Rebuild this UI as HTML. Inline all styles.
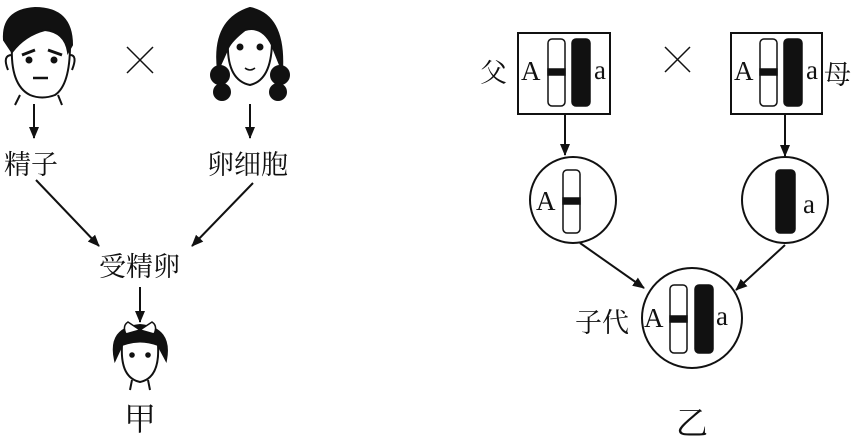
<!DOCTYPE html>
<html><head><meta charset="utf-8"><style>
body{margin:0;background:#fff;}
svg{display:block;}
text{font-family:"Liberation Serif","Noto Serif CJK SC",serif;fill:#111;}
.cn{font-family:"Liberation Sans","Noto Sans CJK SC",sans-serif;}
</style></head><body>
<svg width="859" height="438" viewBox="0 0 859 438" xmlns="http://www.w3.org/2000/svg">
<defs><marker id="ah" markerWidth="12" markerHeight="12" refX="11" refY="6" orient="auto" markerUnits="userSpaceOnUse"><path d="M0,1 L12,6 L0,11 Z" fill="#111"/></marker></defs>
<g stroke="#111" stroke-width="2" fill="none">
<!-- man face -->
<path d="M12,45 Q10,85 30,95 Q42,100 55,95 Q70,85 70,45" fill="#fff"/>
<path d="M4,40 Q2,10 35,8 Q72,8 72,45 L68,52 Q65,32 45,30 Q25,35 12,52 Z" fill="#111"/>
<path d="M12,55 Q2,55 8,70 M70,55 Q78,55 72,70"/>
<path d="M20,95 L15,105 M58,95 L62,105"/>
<path d="M22,55 L35,50 M48,50 L62,55" stroke-width="3"/>
<circle cx="29" cy="60" r="2.5" fill="#111"/><circle cx="54" cy="60" r="2.5" fill="#111"/>
<path d="M33,78 L48,78" stroke-width="2.5"/>
<!-- woman -->
<path d="M228,40 Q226,80 250,85 Q272,80 272,40" fill="#fff"/>
<path d="M218,70 Q212,20 250,8 Q285,15 282,70 L272,45 Q262,25 245,30 Q232,40 228,48 Z" fill="#111"/>
<circle cx="220" cy="75" r="9" fill="#111"/><circle cx="222" cy="92" r="8" fill="#111"/>
<circle cx="280" cy="75" r="9" fill="#111"/><circle cx="278" cy="92" r="8" fill="#111"/>
<circle cx="240" cy="47" r="2.5" fill="#111"/><circle cx="260" cy="47" r="2.5" fill="#111"/>
<path d="M245,68 Q250,72 255,68" stroke-width="1.5"/>
<!-- girl -->
<path d="M122,345 Q120,378 140,382 Q160,378 158,345" fill="#fff"/>
<path d="M115,360 Q108,328 140,325 Q172,328 166,360 L158,345 Q140,338 122,345 Z" fill="#111"/>
<path d="M140,330 L128,322 Q122,326 126,334 Z M140,330 L152,322 Q158,326 154,334 Z" fill="#fff" stroke-width="1.5"/>
<path d="M132,380 L130,390 M148,380 L150,390"/>
<circle cx="132" cy="355" r="1.8" fill="#111"/><circle cx="148" cy="355" r="1.8" fill="#111"/>
<!-- crosses -->
<path d="M127,47 L153,73 M153,47 L127,73" stroke-width="1.5"/>
<path d="M665,47 L690,72 M690,47 L665,72" stroke-width="1.5"/>
<!-- left arrows -->
<path d="M34,104 L34,138" marker-end="url(#ah)"/>
<path d="M250,104 L250,138" marker-end="url(#ah)"/>
<path d="M36,180 L99,246" marker-end="url(#ah)"/>
<path d="M253,183 L192,246" marker-end="url(#ah)"/>
<path d="M140,287 L140,322" marker-end="url(#ah)"/>
<!-- right boxes -->
<rect x="518" y="33" width="92" height="81"/>
<rect x="731" y="33" width="91" height="81"/>
<path d="M565,114 L565,155" marker-end="url(#ah)"/>
<path d="M785,114 L785,156" marker-end="url(#ah)"/>
<circle cx="573" cy="200" r="43"/>
<circle cx="785" cy="200" r="43"/>
<circle cx="692" cy="318" r="50"/>
<path d="M580,243 L644,288" marker-end="url(#ah)"/>
<path d="M785,245 L736,290" marker-end="url(#ah)"/>
</g>
<g stroke="#111" stroke-width="1.5">
<rect x="548" y="39" width="17" height="67" rx="4" fill="#fff"/>
<rect x="548" y="69" width="17" height="6" fill="#111"/>
<rect x="572" y="39" width="18" height="67" rx="4" fill="#111"/>
<rect x="760" y="39" width="17" height="67" rx="4" fill="#fff"/>
<rect x="760" y="69" width="17" height="6" fill="#111"/>
<rect x="784" y="39" width="18" height="67" rx="4" fill="#111"/>
<rect x="563" y="170" width="17" height="63" rx="4" fill="#fff"/>
<rect x="563" y="198" width="17" height="6" fill="#111"/>
<rect x="776" y="170" width="19" height="63" rx="4" fill="#111"/>
<rect x="670" y="285" width="17" height="68" rx="4" fill="#fff"/>
<rect x="670" y="316" width="17" height="6" fill="#111"/>
<rect x="695" y="285" width="18" height="68" rx="4" fill="#111"/>
</g>
<g font-size="27">
<text x="521" y="80">A</text><text x="594" y="79">a</text>
<text x="734" y="80">A</text><text x="806" y="79">a</text>
<text x="536" y="210">A</text><text x="803" y="213">a</text>
<text x="644" y="327">A</text><text x="716" y="325">a</text>
</g>
<g class="cn" font-size="27">
<text x="480" y="82">父</text><text x="824" y="84">母</text>
<text x="575" y="332">子代</text>
<text x="4" y="174">精子</text><text x="207" y="174">卵细胞</text>
<text x="99" y="276">受精卵</text>
</g>
<text x="124" y="430" font-size="32" font-family="Liberation Serif,Noto Serif CJK SC,serif">甲</text>
<text x="676" y="434" font-size="32" font-family="Liberation Serif,Noto Serif CJK SC,serif">乙</text>
</svg>
</body></html>
